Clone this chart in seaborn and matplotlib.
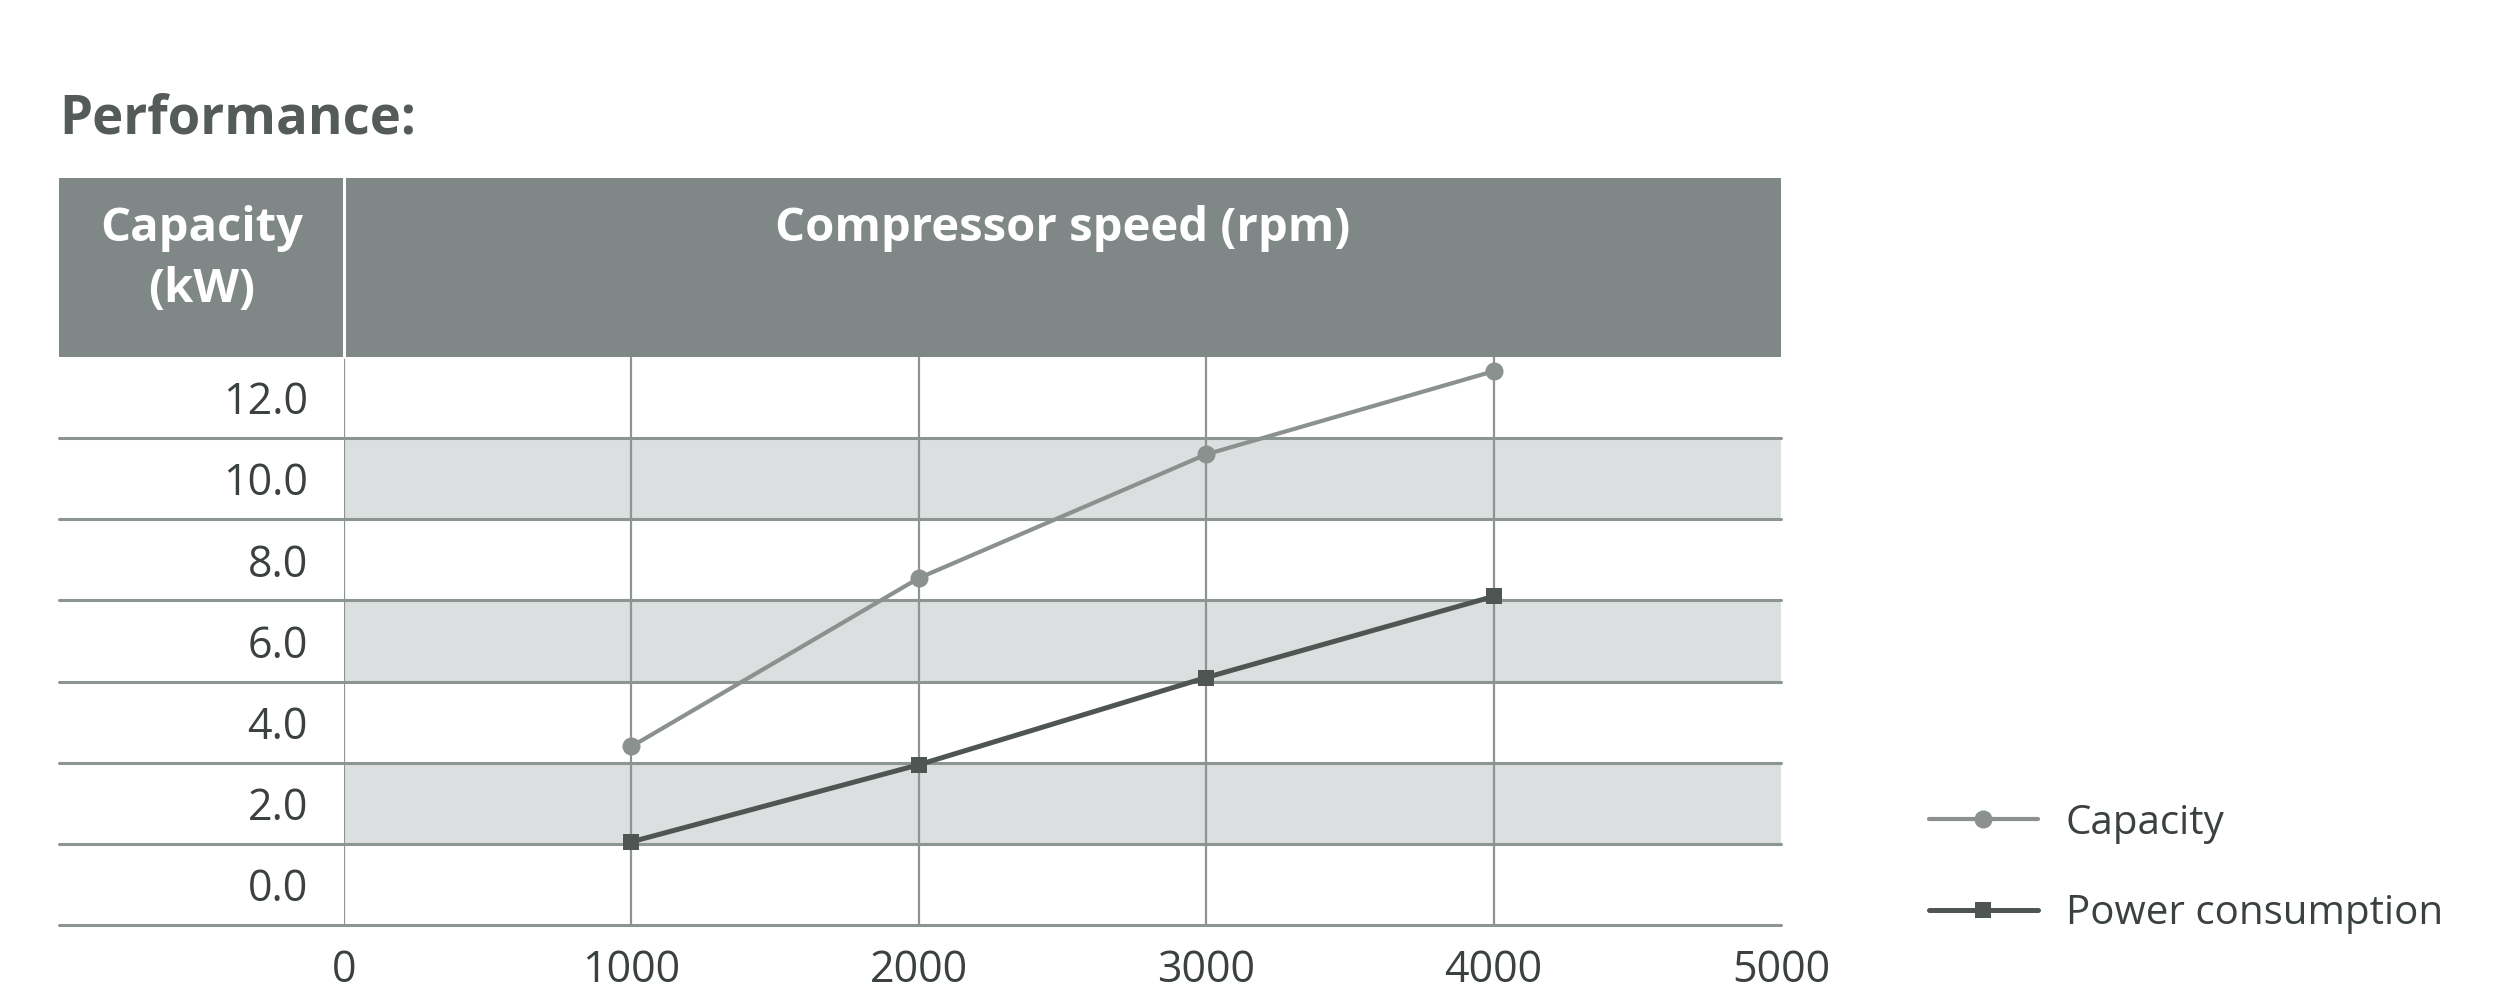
import matplotlib
matplotlib.use("Agg")
import matplotlib.pyplot as plt
from matplotlib.patches import Rectangle
from matplotlib.lines import Line2D
import seaborn as sns
import pandas as pd

# values
speeds = [1000, 2000, 3000, 4000]
capacity = [3.4, 7.55, 10.6, 12.65]
power = [1.05, 2.95, 5.1, 7.1]
series_names = ["Capacity", "Power consumption"]
y_ticks = [0, 2, 4, 6, 8, 10, 12]
x_ticks = [0, 1000, 2000, 3000, 4000, 5000]

df = pd.DataFrame({
    "speed": speeds + speeds,
    "value": capacity + power,
    "series": [series_names[0]] * len(speeds) + [series_names[1]] * len(speeds),
})

sns.set_theme(style="white")
plt.rcParams["font.family"] = ["Open Sans", "DejaVu Sans"]

header_col = "#7f8886"
band_col = "#dcdfdf"
grid_col = "#8d9593"
cap_col = "#8a918f"
pow_col = "#4f5553"
text_col = "#3b4140"
title_col = "#555b59"

W, H = 2500, 1006
fig = plt.figure(figsize=(W / 100, H / 100), dpi=100)

# plot area in pixels of the output image
left, right, top, bottom = 344, 1781, 357, 925
table_left, header_top = 59, 178
ax = fig.add_axes([left / W, 1 - bottom / H, (right - left) / W, (bottom - top) / H])
ax.set_xlim(0, 5000)
ax.set_ylim(-1, 13)
for s in ax.spines.values():
    s.set_visible(False)

# shaded rows
for lo in [1, 5, 9]:
    ax.axhspan(lo, lo + 2, color=band_col, lw=0, zorder=0)

# row lines reach into the label column
ext = -(left - table_left) / (right - left)
for yb in [-1, 1, 3, 5, 7, 9, 11]:
    ax.axhline(yb, xmin=ext, xmax=1, color=grid_col, lw=2.2, clip_on=False, zorder=1)

for xv in x_ticks[:-1]:
    ax.axvline(xv, color=grid_col, lw=1.6, zorder=1)

# lines
sns.lineplot(data=df[df.series == series_names[0]], x="speed", y="value",
             color=cap_col, marker="o", markersize=13, markeredgewidth=0,
             markeredgecolor=cap_col, lw=3.0, label=series_names[0], ax=ax, zorder=3)
sns.lineplot(data=df[df.series == series_names[1]], x="speed", y="value",
             color=pow_col, marker="s", markersize=11, markeredgewidth=0,
             markeredgecolor=pow_col, lw=3.6, label=series_names[1], ax=ax, zorder=3)

ax.set_xlabel("")
ax.set_ylabel("")
ax.set_xticks(x_ticks)
ax.set_xticklabels([str(v) for v in x_ticks])
ax.set_yticks(y_ticks)
ax.set_yticklabels([f"{v:.1f}" for v in y_ticks])
ax.tick_params(axis="y", length=0, pad=26, labelsize=31, labelcolor=text_col)
ax.tick_params(axis="x", length=0, pad=17, labelsize=31, labelcolor=text_col)

# header block
fig.add_artist(Rectangle((table_left / W, 1 - top / H), (right - table_left) / W,
                         (top - header_top) / H, transform=fig.transFigure,
                         facecolor=header_col, edgecolor="none", zorder=2))
fig.add_artist(Line2D([left / W, left / W], [1 - top / H, 1 - header_top / H],
                      transform=fig.transFigure, color="white", lw=2.2, zorder=3))
fig.text((table_left + left) / 2 / W, 1 - 228 / H, "Capacity", ha="center", va="center",
         color="white", fontsize=34, fontweight="bold")
fig.text((table_left + left) / 2 / W, 1 - 289 / H, "(kW)", ha="center", va="center",
         color="white", fontsize=34, fontweight="bold")
fig.text((left + right) / 2 / W, 1 - 228 / H, "Compressor speed (rpm)", ha="center",
         va="center", color="white", fontsize=34, fontweight="bold")

fig.text(table_left / W, 1 - 120 / H, "Performance:", ha="left", va="center",
         color=title_col, fontsize=38, fontweight="bold")

ax.legend(loc="upper left", bbox_to_anchor=(1929 / W, 1 - 803 / H),
          bbox_transform=fig.transFigure, frameon=False, fontsize=29,
          handlelength=2.7, handletextpad=0.7, labelspacing=1.24,
          borderpad=0, borderaxespad=0, labelcolor=text_col)

fig.savefig("out.png", dpi=100)
